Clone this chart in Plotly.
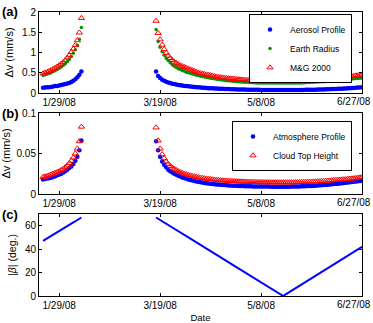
import pandas as pd
import plotly.graph_objects as go

# ---------------- data ----------------
SEG1_START = "2008-01-21"
SEG2_START = "2008-03-17"

AEROSOL_1 = [0.13, 0.135, 0.14, 0.145, 0.15, 0.16, 0.17, 0.175, 0.185, 0.195,
             0.21, 0.22, 0.235, 0.25, 0.27, 0.30, 0.34, 0.39, 0.45, 0.53]
EARTH_1 = [0.43, 0.45, 0.46, 0.48, 0.50, 0.53, 0.55, 0.58, 0.61, 0.64,
           0.68, 0.72, 0.77, 0.83, 0.90, 0.98, 1.07, 1.18, 1.33, 1.62]
MG_1 = [0.48, 0.50, 0.52, 0.54, 0.56, 0.59, 0.62, 0.65, 0.68, 0.72,
        0.76, 0.81, 0.87, 0.93, 1.01, 1.09, 1.18, 1.30, 1.49, 1.85]

AEROSOL_2 = [0.53, 0.42, 0.37, 0.33, 0.30, 0.28, 0.26, 0.245, 0.23, 0.22,
             0.21, 0.20, 0.19, 0.185, 0.175, 0.17, 0.165, 0.16, 0.155, 0.15,
             0.145, 0.14, 0.135, 0.13, 0.128, 0.125, 0.12, 0.118, 0.115, 0.112,
             0.11, 0.107, 0.105, 0.102, 0.10, 0.098, 0.096, 0.094, 0.092, 0.09,
             0.089, 0.088, 0.086, 0.085, 0.084, 0.083, 0.082, 0.081, 0.08, 0.079,
             0.078, 0.078, 0.077, 0.077, 0.076, 0.076, 0.075, 0.075, 0.075, 0.075,
             0.074, 0.074, 0.074, 0.074, 0.074, 0.074, 0.074, 0.075, 0.075, 0.075,
             0.076, 0.076, 0.077, 0.077, 0.078, 0.079, 0.08, 0.081, 0.082, 0.083,
             0.084, 0.085, 0.087, 0.088, 0.09, 0.092, 0.094, 0.096, 0.098, 0.10,
             0.102, 0.104, 0.107, 0.11, 0.113, 0.116, 0.119, 0.122, 0.126, 0.13,
             0.134, 0.138, 0.142]
EARTH_2 = [1.57, 1.27, 1.13, 1.02, 0.93, 0.86, 0.80, 0.75, 0.70, 0.66,
           0.63, 0.60, 0.58, 0.555, 0.535, 0.515, 0.50, 0.485, 0.47, 0.455,
           0.44, 0.43, 0.415, 0.405, 0.395, 0.385, 0.375, 0.365, 0.355, 0.35,
           0.34, 0.335, 0.325, 0.32, 0.31, 0.305, 0.30, 0.295, 0.29, 0.285,
           0.28, 0.275, 0.27, 0.27, 0.265, 0.265, 0.26, 0.26, 0.255, 0.255,
           0.25, 0.25, 0.25, 0.25, 0.245, 0.245, 0.245, 0.245, 0.245, 0.245,
           0.245, 0.245, 0.245, 0.245, 0.245, 0.245, 0.245, 0.245, 0.25, 0.25,
           0.25, 0.25, 0.25, 0.255, 0.255, 0.26, 0.26, 0.265, 0.265, 0.27,
           0.27, 0.275, 0.28, 0.28, 0.285, 0.29, 0.295, 0.30, 0.30, 0.305,
           0.31, 0.315, 0.32, 0.325, 0.33, 0.335, 0.34, 0.345, 0.35, 0.355,
           0.36, 0.365, 0.37]
MG_2 = [1.78, 1.48, 1.32, 1.19, 1.08, 0.99, 0.92, 0.86, 0.81, 0.77,
        0.74, 0.71, 0.68, 0.66, 0.64, 0.62, 0.60, 0.58, 0.56, 0.54,
        0.52, 0.50, 0.49, 0.475, 0.465, 0.455, 0.445, 0.435, 0.425, 0.41,
        0.40, 0.39, 0.385, 0.38, 0.37, 0.365, 0.36, 0.355, 0.35, 0.345,
        0.34, 0.335, 0.33, 0.325, 0.32, 0.32, 0.315, 0.31, 0.31, 0.305,
        0.305, 0.30, 0.30, 0.30, 0.295, 0.295, 0.295, 0.29, 0.29, 0.29,
        0.29, 0.29, 0.29, 0.29, 0.29, 0.29, 0.29, 0.29, 0.295, 0.295,
        0.295, 0.30, 0.30, 0.30, 0.305, 0.305, 0.31, 0.31, 0.315, 0.32,
        0.32, 0.325, 0.33, 0.335, 0.34, 0.345, 0.35, 0.355, 0.36, 0.365,
        0.37, 0.375, 0.38, 0.39, 0.395, 0.40, 0.41, 0.415, 0.42, 0.43,
        0.435, 0.44, 0.45]

ATMOS_1 = [0.018, 0.0185, 0.019, 0.0195, 0.020, 0.021, 0.022, 0.023, 0.024, 0.025,
           0.0265, 0.028, 0.030, 0.032, 0.034, 0.037, 0.041, 0.046, 0.054, 0.066]
CLOUD_1 = [0.021, 0.0215, 0.022, 0.023, 0.024, 0.025, 0.026, 0.027, 0.028, 0.0295,
           0.031, 0.033, 0.035, 0.038, 0.041, 0.045, 0.050, 0.056, 0.065, 0.083]
ATMOS_2 = [0.065, 0.054, 0.046, 0.040, 0.036, 0.033, 0.030, 0.028, 0.0265, 0.025,
           0.0237, 0.0225, 0.0215, 0.0205, 0.0196, 0.0188, 0.018, 0.0173, 0.0167, 0.0161,
           0.0155, 0.015, 0.0145, 0.0141, 0.0137, 0.0133, 0.013, 0.0127, 0.0124, 0.0121,
           0.0118, 0.0116, 0.0114, 0.0112, 0.011, 0.0108, 0.0106, 0.0105, 0.0103, 0.0102,
           0.0101, 0.01, 0.0099, 0.0098, 0.0097, 0.0096, 0.0096, 0.0095, 0.0094, 0.0094,
           0.0093, 0.0093, 0.0093, 0.0092, 0.0092, 0.0092, 0.0092, 0.0091, 0.0091, 0.0091,
           0.0091, 0.0091, 0.0091, 0.0091, 0.0091, 0.0091, 0.0091, 0.0092, 0.0092, 0.0093,
           0.0093, 0.0094, 0.0095, 0.0096, 0.0097, 0.0098, 0.0099, 0.01, 0.0102, 0.0103,
           0.0105, 0.0107, 0.0109, 0.0111, 0.0113, 0.0115, 0.0117, 0.012, 0.0122, 0.0125,
           0.0128, 0.013, 0.0133, 0.0136, 0.0139, 0.0142, 0.0145, 0.0148, 0.0151, 0.0154,
           0.0157, 0.016, 0.0163]
CLOUD_2 = [0.082, 0.066, 0.056, 0.049, 0.044, 0.040, 0.037, 0.0345, 0.0325, 0.031,
           0.0295, 0.028, 0.027, 0.026, 0.025, 0.0242, 0.0235, 0.0228, 0.0222, 0.0216,
           0.021, 0.0205, 0.020, 0.0196, 0.0192, 0.0188, 0.0185, 0.0182, 0.0179, 0.0176,
           0.0173, 0.0171, 0.0169, 0.0167, 0.0165, 0.0163, 0.0161, 0.016, 0.0158, 0.0157,
           0.0155, 0.0154, 0.0153, 0.0152, 0.0151, 0.015, 0.0149, 0.0148, 0.0148, 0.0147,
           0.0146, 0.0146, 0.0145, 0.0145, 0.0144, 0.0144, 0.0144, 0.0143, 0.0143, 0.0143,
           0.0143, 0.0143, 0.0143, 0.0143, 0.0143, 0.0143, 0.0143, 0.0144, 0.0144, 0.0145,
           0.0145, 0.0146, 0.0147, 0.0148, 0.0149, 0.015, 0.0151, 0.0152, 0.0153, 0.0154,
           0.0156, 0.0157, 0.0159, 0.016, 0.0162, 0.0164, 0.0166, 0.0168, 0.017, 0.0172,
           0.0174, 0.0176, 0.0178, 0.018, 0.0182, 0.0185, 0.0188, 0.019, 0.0193, 0.0196,
           0.0199, 0.0202, 0.0205]

BETA_1 = [47.0, 48.1, 49.1, 50.2, 51.2, 52.3, 53.3, 54.4, 55.4, 56.5,
          57.5, 58.6, 59.6, 60.7, 61.7, 62.8, 63.8, 64.9, 65.9, 67.0]
BETA_2 = [67.0, 65.9, 64.9, 63.8, 62.7, 61.7, 60.6, 59.6, 58.5, 57.4,
          56.4, 55.3, 54.2, 53.2, 52.1, 51.0, 50.0, 48.9, 47.9, 46.8,
          45.7, 44.7, 43.6, 42.5, 41.5, 40.4, 39.3, 38.3, 37.2, 36.2,
          35.1, 34.0, 33.0, 31.9, 30.8, 29.8, 28.7, 27.6, 26.6, 25.5,
          24.5, 23.4, 22.3, 21.3, 20.2, 19.1, 18.1, 17.0, 16.0, 14.9,
          13.8, 12.8, 11.7, 10.6, 9.6, 8.5, 7.4, 6.4, 5.3, 4.3,
          3.2, 2.1, 1.1, 0.0, 1.1, 2.2, 3.2, 4.3, 5.4, 6.5,
          7.5, 8.6, 9.7, 10.8, 11.8, 12.9, 14.0, 15.1, 16.2, 17.2,
          18.3, 19.4, 20.5, 21.5, 22.6, 23.7, 24.8, 25.8, 26.9, 28.0,
          29.1, 30.2, 31.2, 32.3, 33.4, 34.5, 35.5, 36.6, 37.7, 38.8,
          39.8, 40.9, 42.0]

TICK_DATES = ["2008-01-29", "2008-03-19", "2008-05-08", "2008-06-27"]
TICK_TEXT = ["1/29/08", "3/19/08", "5/8/08", "6/27/08"]
X_RANGE = ["2008-01-19", "2008-06-27"]

# ---------------- build ----------------
d1 = list(pd.date_range(SEG1_START, periods=len(BETA_1)))
d2 = list(pd.date_range(SEG2_START, periods=len(BETA_2)))
xs = d1 + d2

FONT = "Liberation Sans, Arial, sans-serif"
BLUE = "rgb(0,0,255)"
GREEN = "rgb(0,150,0)"
RED = "rgb(255,0,0)"

fig = go.Figure()

fig.add_trace(go.Scatter(x=xs, y=AEROSOL_1 + AEROSOL_2, mode="markers", name="Aerosol Profile",
                         marker=dict(symbol="circle", size=4.5, color=BLUE, line=dict(width=0)),
                         xaxis="x", yaxis="y", legend="legend"))
fig.add_trace(go.Scatter(x=xs, y=EARTH_1 + EARTH_2, mode="markers", name="Earth Radius",
                         marker=dict(symbol="circle", size=3.5, color=GREEN, line=dict(width=0)),
                         xaxis="x", yaxis="y", legend="legend"))
fig.add_trace(go.Scatter(x=xs, y=MG_1 + MG_2, mode="markers", name="M&G 2000",
                         marker=dict(symbol="triangle-up-open", size=5.5, color=RED, line=dict(width=1)),
                         xaxis="x", yaxis="y", legend="legend"))

fig.add_trace(go.Scatter(x=xs, y=ATMOS_1 + ATMOS_2, mode="markers", name="Atmosphere Profile",
                         marker=dict(symbol="circle", size=4.5, color=BLUE, line=dict(width=0)),
                         xaxis="x2", yaxis="y2", legend="legend2"))
fig.add_trace(go.Scatter(x=xs, y=CLOUD_1 + CLOUD_2, mode="markers", name="Cloud Top Height",
                         marker=dict(symbol="triangle-up-open", size=5.5, color=RED, line=dict(width=1)),
                         xaxis="x2", yaxis="y2", legend="legend2"))

fig.add_trace(go.Scatter(x=d1 + [None] + d2, y=BETA_1 + [None] + BETA_2, mode="lines",
                         line=dict(color=BLUE, width=2), showlegend=False,
                         connectgaps=False, xaxis="x3", yaxis="y3"))

W, H = 373, 323
xdom = [39 / W, 362 / W]

def ydom(top, bot):
    return [(H - bot) / H, (H - top) / H]

# last tick label sits at the figure's right edge: drawn right-aligned so it stays in view
axis_ticktext = TICK_TEXT[:-1] + [""]

common_x = dict(type="date", range=X_RANGE, tickmode="array", tickvals=TICK_DATES, ticktext=axis_ticktext,
                ticks="inside", ticklen=3, tickcolor="black", showline=True, linecolor="black",
                linewidth=1, mirror="ticks", showgrid=False, zeroline=False, automargin=False,
                ticklabeloverflow="allow",
                tickfont=dict(size=10, color="black", family=FONT), domain=xdom)
common_y = dict(ticks="inside", ticklen=3, tickcolor="black", showline=True, linecolor="black",
                linewidth=1, mirror="ticks", showgrid=False, zeroline=False, automargin=False,
                ticklabeloverflow="allow",
                tickfont=dict(size=10, color="black", family=FONT))

fig.update_layout(
    width=W, height=H, margin=dict(l=0, r=0, t=0, b=0),
    paper_bgcolor="white", plot_bgcolor="white",
    font=dict(family=FONT, size=10, color="black"),
    xaxis=dict(common_x, anchor="y"),
    xaxis2=dict(common_x, anchor="y2"),
    xaxis3=dict(common_x, anchor="y3",
                title=dict(text="Date", font=dict(size=9.5), standoff=4)),
    yaxis=dict(common_y, domain=ydom(12, 93), range=[0, 2], tickvals=[0, 0.5, 1, 1.5, 2],
               ticktext=["0", "0.5", "1", "1.5", "2"], anchor="x",
               title=dict(text="Δv (mm/s)", font=dict(size=11), standoff=6)),
    yaxis2=dict(common_y, domain=ydom(113, 194), range=[0, 0.1], tickvals=[0, 0.05, 0.1],
                ticktext=["0", "0.05", "0.1"], anchor="x2",
                title=dict(text="Δv (mm/s)", font=dict(size=11), standoff=3)),
    yaxis3=dict(common_y, domain=ydom(214, 296), range=[0, 70], tickvals=[0, 20, 40, 60],
                ticktext=["0", "20", "40", "60"], anchor="x3",
                title=dict(text="|<i>β</i>| (deg.)", font=dict(size=10.5), standoff=6)),
    legend=dict(x=352 / W, xanchor="right", y=(H - 14) / H, yanchor="top",
                bgcolor="white", bordercolor="black", borderwidth=1,
                font=dict(size=8.5, family=FONT), tracegroupgap=0, itemwidth=30),
    legend2=dict(x=352 / W, xanchor="right", y=(H - 121) / H, yanchor="top",
                 bgcolor="white", bordercolor="black", borderwidth=1,
                 font=dict(size=8.5, family=FONT), tracegroupgap=0, itemwidth=30),
    showlegend=True,
)

for xa, ya in [("x", "y"), ("x2", "y2"), ("x3", "y3")]:
    fig.add_annotation(text=TICK_TEXT[-1], xref=xa, yref="%s domain" % ya,
                       x=TICK_DATES[-1], y=0, xanchor="right", yanchor="top",
                       xshift=11, yshift=-1, showarrow=False,
                       font=dict(size=10, family=FONT, color="black"))

for txt, ytop in [("(a)", 2), ("(b)", 104), ("(c)", 205)]:
    fig.add_annotation(text="<b>%s</b>" % txt, xref="paper", yref="paper",
                       x=0, y=(H - ytop) / H, xanchor="left", yanchor="top",
                       showarrow=False, font=dict(size=13, family=FONT, color="black"))

fig.write_html("out.html", config={"displayModeBar": False},
               post_script="document.body.style.margin='0';document.body.style.overflow='hidden';")
